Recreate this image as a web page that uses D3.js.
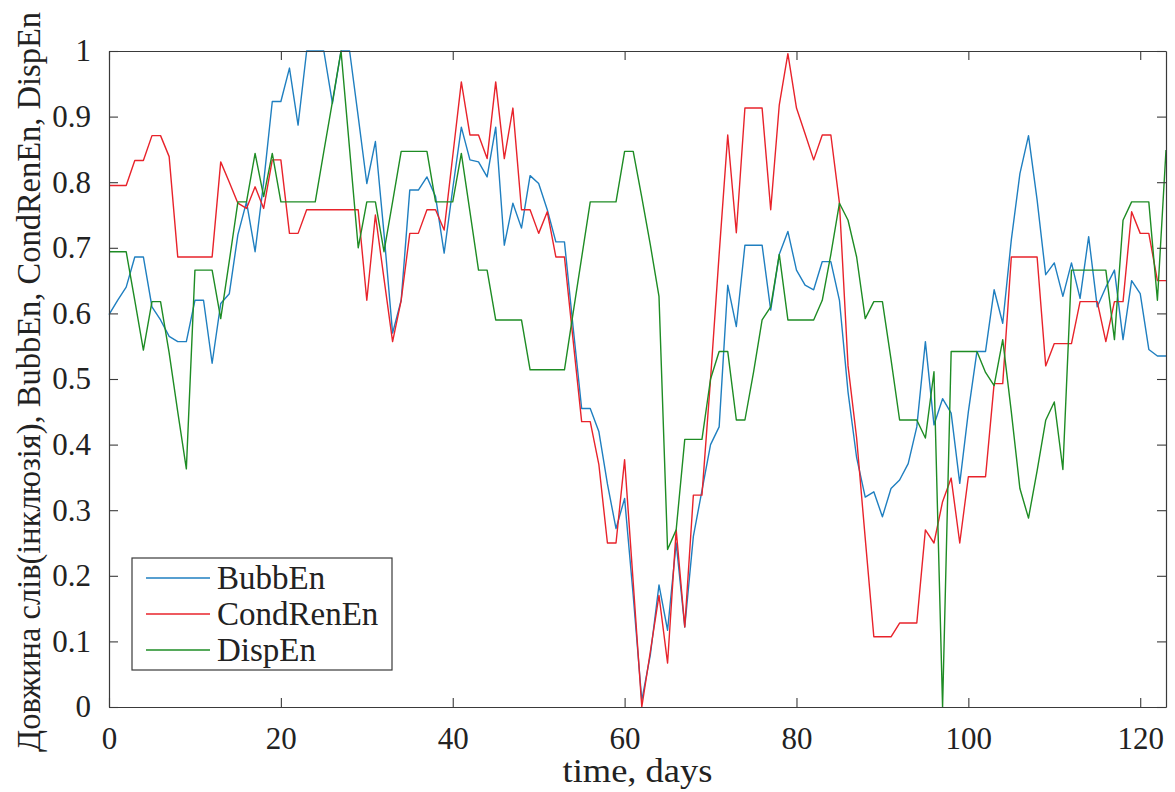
<!DOCTYPE html>
<html>
<head>
<meta charset="utf-8">
<script src="https://cdn.jsdelivr.net/npm/d3@7"></script>
<style>
  html, body { margin: 0; padding: 0; background: #fff; }
  svg { display: block; }
</style>
</head>
<body>
<svg id="chart" width="1175" height="792"></svg>
<script>
// Daily entropy measures, days 0..123
const bubbEn = [
  0.598, 0.62, 0.64, 0.686, 0.686, 0.61, 0.59, 0.565, 0.557, 0.557,
  0.62, 0.62, 0.524, 0.615, 0.63, 0.72, 0.77, 0.694, 0.80, 0.923,
  0.923, 0.974, 0.887, 1.0, 1.0, 1.0, 0.92, 1.0, 1.0, 0.9,
  0.798, 0.862, 0.722, 0.57, 0.62, 0.788, 0.788, 0.808, 0.778, 0.692,
  0.79, 0.884, 0.834, 0.831, 0.808, 0.884, 0.704, 0.768, 0.73, 0.81,
  0.798, 0.758, 0.709, 0.709, 0.58, 0.455, 0.455, 0.42, 0.34, 0.272,
  0.318, 0.17, 0.01, 0.08, 0.186, 0.117, 0.25, 0.122, 0.26, 0.33,
  0.40, 0.427, 0.643, 0.58, 0.704, 0.704, 0.704, 0.605, 0.69, 0.725,
  0.666, 0.643, 0.636, 0.679, 0.679, 0.62, 0.48, 0.38, 0.32, 0.328,
  0.29, 0.333, 0.346, 0.371, 0.427, 0.557, 0.43, 0.47, 0.448, 0.341,
  0.45, 0.542, 0.542, 0.636, 0.585, 0.712, 0.813, 0.871, 0.773, 0.659,
  0.677, 0.626, 0.677, 0.623, 0.717, 0.61, 0.64, 0.666, 0.56, 0.65,
  0.63, 0.545, 0.535, 0.535
];

const condRenEn = [
  0.795, 0.795, 0.795, 0.833, 0.833, 0.871, 0.871, 0.839, 0.686, 0.686,
  0.686, 0.686, 0.686, 0.831, 0.80, 0.768, 0.76, 0.793, 0.76, 0.834,
  0.834, 0.722, 0.722, 0.758, 0.758, 0.758, 0.758, 0.758, 0.758, 0.758,
  0.62, 0.75, 0.653, 0.557, 0.62, 0.722, 0.722, 0.758, 0.758, 0.727,
  0.84, 0.953, 0.872, 0.872, 0.836, 0.953, 0.836, 0.913, 0.758, 0.758,
  0.722, 0.755, 0.686, 0.686, 0.56, 0.435, 0.435, 0.37, 0.25, 0.25,
  0.377, 0.19, 0.0, 0.085, 0.17, 0.067, 0.27, 0.122, 0.323, 0.323,
  0.5, 0.69, 0.872, 0.723, 0.913, 0.913, 0.913, 0.758, 0.918, 0.996,
  0.913, 0.874, 0.834, 0.872, 0.872, 0.768, 0.52, 0.41, 0.257, 0.107,
  0.107, 0.107, 0.128, 0.128, 0.128, 0.27, 0.25, 0.313, 0.349, 0.25,
  0.351, 0.351, 0.351, 0.493, 0.493, 0.686, 0.686, 0.686, 0.686, 0.52,
  0.554, 0.554, 0.554, 0.618, 0.618, 0.618, 0.557, 0.618, 0.618, 0.755,
  0.722, 0.722, 0.65, 0.65
];

const dispEn = [
  0.694, 0.694, 0.694, 0.62, 0.544, 0.618, 0.618, 0.54, 0.45, 0.363,
  0.666, 0.666, 0.666, 0.592, 0.68, 0.77, 0.77, 0.844, 0.778, 0.844,
  0.77, 0.77, 0.77, 0.77, 0.77, 0.847, 0.923, 1.0, 0.85, 0.70,
  0.77, 0.77, 0.694, 0.77, 0.847, 0.847, 0.847, 0.847, 0.77, 0.77,
  0.77, 0.844, 0.755, 0.666, 0.666, 0.59, 0.59, 0.59, 0.59, 0.514,
  0.514, 0.514, 0.514, 0.514, 0.60, 0.685, 0.77, 0.77, 0.77, 0.77,
  0.847, 0.847, 0.777, 0.704, 0.626, 0.24, 0.27, 0.408, 0.408, 0.408,
  0.5, 0.542, 0.542, 0.4375, 0.4375, 0.51, 0.59, 0.61, 0.69, 0.59,
  0.59, 0.59, 0.59, 0.62, 0.69, 0.768, 0.742, 0.686, 0.592, 0.618,
  0.618, 0.53, 0.4375, 0.4375, 0.4375, 0.41, 0.511, 0.0, 0.542, 0.542,
  0.542, 0.542, 0.51, 0.49, 0.56, 0.45, 0.333, 0.288, 0.36, 0.437,
  0.465, 0.362, 0.666, 0.666, 0.666, 0.666, 0.666, 0.56, 0.742, 0.77,
  0.77, 0.77, 0.62, 0.849
];

const seriesNames = ["BubbEn", "CondRenEn", "DispEn"];
const seriesColors = ["#1f7fc0", "#e8232b", "#1e8c24"];
const xTicks = [0, 20, 40, 60, 80, 100, 120];
const yTicks = [0, 0.1, 0.2, 0.3, 0.4, 0.5, 0.6, 0.7, 0.8, 0.9, 1];
const yTickLabels = ["0", "0.1", "0.2", "0.3", "0.4", "0.5", "0.6", "0.7", "0.8", "0.9", "1"];
const xTitle = "time, days";
const yTitle = "Довжина слів(інклюзія), BubbEn, CondRenEn, DispEn";

const serifFont = '"Liberation Serif", "Times New Roman", Times, "DejaVu Serif", "Noto Serif", serif';

const svg = d3.select("#chart");
const margin = { left: 109, right: 9, top: 51, bottom: 85 };
const W = 1175, H = 792;
const innerW = W - margin.left - margin.right;
const innerH = H - margin.top - margin.bottom;

const x = d3.scaleLinear().domain([0, 123]).range([margin.left, margin.left + innerW]);
const y = d3.scaleLinear().domain([0, 1]).range([margin.top + innerH, margin.top]);

const axisColor = "#3a3a3a";
const tickLen = 9;

// Series lines
const allSeries = [bubbEn, condRenEn, dispEn];
const line = d3.line().x((d, i) => x(i)).y(d => y(d));
const plot = svg.append("g");
allSeries.forEach((vals, k) => {
  plot.append("path")
    .datum(vals)
    .attr("fill", "none")
    .attr("stroke", seriesColors[k])
    .attr("stroke-width", 1.4)
    .attr("stroke-linejoin", "round")
    .attr("d", line);
});

// Axes with inward ticks on all four sides
const fmtY = (d) => yTickLabels[yTicks.indexOf(d)];
const bottomAxis = d3.axisBottom(x).tickValues(xTicks).tickSizeInner(-tickLen).tickSizeOuter(0).tickPadding(20);
const topAxis = d3.axisTop(x).tickValues(xTicks).tickSizeInner(-tickLen).tickSizeOuter(0).tickFormat("");
const leftAxis = d3.axisLeft(y).tickValues(yTicks).tickSizeInner(-tickLen).tickSizeOuter(0).tickPadding(18).tickFormat(fmtY);
const rightAxis = d3.axisRight(y).tickValues(yTicks).tickSizeInner(-tickLen).tickSizeOuter(0).tickFormat("");

function styleAxis(g) {
  g.attr("font-family", serifFont).attr("font-size", 31);
  g.select(".domain").attr("stroke", axisColor).attr("stroke-width", 1.2);
  g.selectAll(".tick line").attr("stroke", axisColor).attr("stroke-width", 1.1);
  g.selectAll(".tick text").attr("fill", "#222");
}

svg.append("g").attr("transform", `translate(0,${margin.top + innerH})`).call(bottomAxis).call(styleAxis);
svg.append("g").attr("transform", `translate(0,${margin.top})`).call(topAxis).call(styleAxis);
svg.append("g").attr("transform", `translate(${margin.left},0)`).call(leftAxis).call(styleAxis);
svg.append("g").attr("transform", `translate(${margin.left + innerW},0)`).call(rightAxis).call(styleAxis);

// Axis titles
svg.append("text")
  .attr("x", x(61.5))
  .attr("y", 782)
  .attr("text-anchor", "middle")
  .attr("font-family", serifFont)
  .attr("font-size", 33)
  .attr("fill", "#222")
  .attr("textLength", 150)
  .attr("lengthAdjust", "spacingAndGlyphs")
  .text(xTitle);

svg.append("text")
  .attr("transform", `translate(40,${382}) rotate(-90)`)
  .attr("text-anchor", "middle")
  .attr("font-family", serifFont)
  .attr("font-size", 33)
  .attr("fill", "#222")
  .attr("textLength", 740)
  .attr("lengthAdjust", "spacingAndGlyphs")
  .text(yTitle);

// Legend
const legend = svg.append("g");
legend.append("rect")
  .attr("x", 132).attr("y", 558)
  .attr("width", 260).attr("height", 112)
  .attr("fill", "#fff")
  .attr("stroke", axisColor)
  .attr("stroke-width", 1.2);
seriesNames.forEach((name, k) => {
  const ly = 578 + k * 36;
  legend.append("line")
    .attr("x1", 146).attr("x2", 210)
    .attr("y1", ly).attr("y2", ly)
    .attr("stroke", seriesColors[k])
    .attr("stroke-width", 1.4);
  legend.append("text")
    .attr("x", 217).attr("y", ly + 11)
    .attr("font-family", serifFont)
    .attr("font-size", 33)
    .attr("fill", "#222")
    .text(name);
});
</script>
</body>
</html>
